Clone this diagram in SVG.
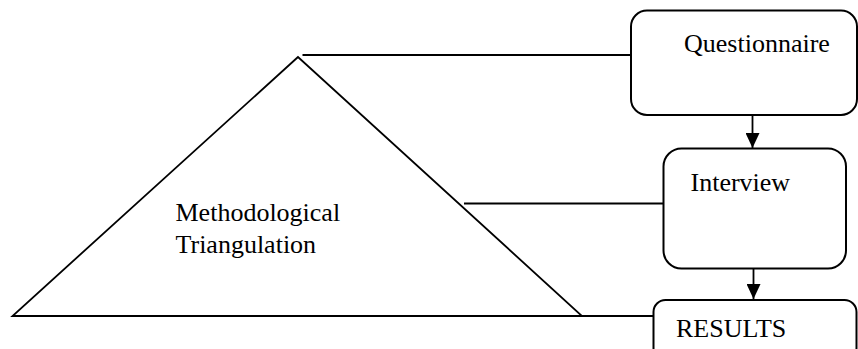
<svg xmlns="http://www.w3.org/2000/svg" width="858" height="349" viewBox="0 0 858 349">
  <defs>
    <style>
      .ln { stroke: #000; stroke-width: 1.8; fill: none; }
      .box { stroke: #000; stroke-width: 2; fill: #fff; }
      .tx { font-family: "Liberation Serif", "Times New Roman", serif; font-size: 26px; fill: #000; }
    </style>
    <marker id="ah" viewBox="0 0 15 14" refX="15" refY="7" markerWidth="15" markerHeight="14" markerUnits="userSpaceOnUse" orient="auto">
      <path d="M0,0 L15,7 L0,14 Z" fill="#000"/>
    </marker>
  </defs>
  <rect width="858" height="349" fill="#fff"/>
  <g id="triangulation">
    <polygon class="ln" points="298,57 12.5,316 582,316"/>
    <text class="tx" x="175.5" y="221">Methodological</text>
    <text class="tx" x="175.5" y="253">Triangulation</text>
  </g>
  <g id="questionnaire">
    <rect class="box" x="631" y="10.5" width="226" height="104.5" rx="16" ry="16"/>
    <text class="tx" x="684" y="52">Questionnaire</text>
  </g>
  <g id="interview">
    <rect class="box" x="663.5" y="148.5" width="182.5" height="120" rx="18" ry="18"/>
    <text class="tx" x="690.5" y="190.5">Interview</text>
  </g>
  <g id="results">
    <rect class="box" x="653.5" y="300" width="203" height="60" rx="12" ry="12"/>
    <text class="tx" x="676" y="336.5">RESULTS</text>
  </g>
  <g id="connectors">
    <line class="ln" x1="302.5" y1="55" x2="631" y2="55"/>
    <line class="ln" x1="464" y1="203.5" x2="663.5" y2="203.5"/>
    <line class="ln" x1="582" y1="316" x2="653.5" y2="316"/>
    <line class="ln" x1="752.5" y1="115" x2="752.5" y2="148" marker-end="url(#ah)"/>
    <line class="ln" x1="753.5" y1="268.5" x2="753.5" y2="299" marker-end="url(#ah)"/>
  </g>
</svg>
